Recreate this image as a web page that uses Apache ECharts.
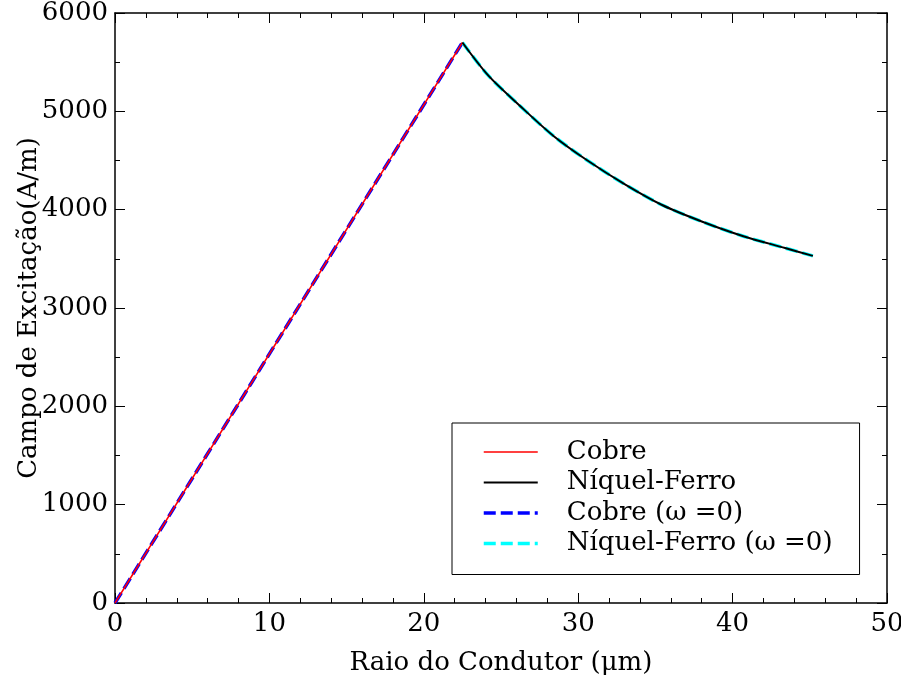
<!DOCTYPE html>
<html>
<head>
<meta charset="utf-8">
<script src="https://cdn.jsdelivr.net/npm/echarts@6/dist/echarts.min.js"></script>
<style>
  html, body { margin: 0; padding: 0; background: #fff; }
  #chart { width: 901px; height: 679px; }
</style>
</head>
<body>
<div id="chart"></div>
<script>
// raio (µm) / campo (A/m)
const cobreR = [0, 22.5]
const cobreH = [0, 5700]
const niquelR = [22.5, 24.2, 26.2, 28.4, 30.6, 33.0, 35.4, 38.0, 40.7, 43.4, 45.2]
const niquelH = [5700, 5360, 5060, 4750, 4500, 4260, 4050, 3880, 3730, 3610, 3530]
const cobreDcH = [0, 5700]
const niquelDcH = [5700, 5360, 5060, 4750, 4500, 4260, 4050, 3880, 3730, 3610, 3530]

const seriesNames = ['Cobre', 'Níquel-Ferro', 'Cobre (ω =0)', 'Níquel-Ferro (ω =0)']
const xTicks = { min: 0, max: 50, interval: 10 }
const yTicks = { min: 0, max: 6000, interval: 1000 }

const FONT = 'DejaVu Serif'
const pairs = (xs, ys) => xs.map((x, i) => [x, ys[i]])

function axisBase(t, minorSplit) {
    return {
        type: 'value',
        min: t.min, max: t.max, interval: t.interval,
        axisLine: { show: true, onZero: false, lineStyle: { color: '#000', width: 1.5 } },
        axisTick: { show: true, inside: true, length: 10, lineStyle: { color: '#000', width: 1 } },
        minorTick: { show: true, splitNumber: minorSplit, length: 5, lineStyle: { color: '#000', width: 1 } },
        splitLine: { show: false },
        minorSplitLine: { show: false }
    }
}

const chart = echarts.init(document.getElementById('chart'), null, { renderer: 'canvas' })
chart.setOption({
    animation: false,
    backgroundColor: '#fff',
    textStyle: { fontFamily: FONT, color: '#000' },
    grid: { left: 115, right: 14, top: 13, bottom: 76, outerBoundsMode: 'none', containLabel: false },
    xAxis: [
        Object.assign(axisBase(xTicks, 5), {
            position: 'bottom',
            name: 'Raio do Condutor (μm)',
            nameLocation: 'middle',
            nameGap: 47,
            nameMoveOverlap: false,
            nameTextStyle: { fontFamily: FONT, fontSize: 26, color: '#000' },
            axisLabel: { fontFamily: FONT, fontSize: 26, color: '#000', margin: 8 }
        }),
        Object.assign(axisBase(xTicks, 5), {
            position: 'top',
            axisLabel: { show: false }
        })
    ],
    yAxis: [
        Object.assign(axisBase(yTicks, 2), {
            position: 'left',
            name: 'Campo de Excitação(A/m)',
            nameLocation: 'middle',
            nameGap: 73,
            nameMoveOverlap: false,
            nameTextStyle: { fontFamily: FONT, fontSize: 26, color: '#000' },
            axisLabel: { fontFamily: FONT, fontSize: 26, color: '#000', margin: 7, formatter: v => String(v) }
        }),
        Object.assign(axisBase(yTicks, 2), {
            position: 'right',
            axisLabel: { show: false }
        })
    ],
    legend: {
        orient: 'vertical',
        left: 452,
        top: 423,
        data: seriesNames,
        backgroundColor: '#fff',
        borderColor: '#000',
        borderWidth: 1,
        borderRadius: 0,
        padding: [16, 27, 18, 30],
        itemWidth: 54,
        itemHeight: 20,
        itemGap: 4.5,
        itemStyle: { opacity: 0 },
        lineStyle: { width: 'inherit' },
        textStyle: { fontFamily: FONT, fontSize: 26, lineHeight: 26, color: '#000', padding: [0, 0, 0, 24] }
    },
    series: [
        {
            name: seriesNames[2], type: 'line', showSymbol: false, symbol: 'none', z: 2,
            data: pairs(cobreR, cobreDcH),
            itemStyle: { color: '#0000ff' },
            lineStyle: { color: '#0000ff', width: 3.5, type: [12, 5] }
        },
        {
            name: seriesNames[3], type: 'line', showSymbol: false, symbol: 'none', z: 2,
            smooth: 0.3,
            data: pairs(niquelR, niquelDcH),
            itemStyle: { color: '#00ffff' },
            lineStyle: { color: '#00ffff', width: 3.5, type: [12, 5] }
        },
        {
            name: seriesNames[0], type: 'line', showSymbol: false, symbol: 'none', z: 3,
            data: pairs(cobreR, cobreH),
            itemStyle: { color: '#ff0000' },
            lineStyle: { color: '#ff0000', width: 1.5 }
        },
        {
            name: seriesNames[1], type: 'line', showSymbol: false, symbol: 'none', z: 3,
            smooth: 0.3,
            data: pairs(niquelR, niquelH),
            itemStyle: { color: '#000' },
            lineStyle: { color: '#000', width: 2 }
        }
    ]
})
</script>
</body>
</html>
